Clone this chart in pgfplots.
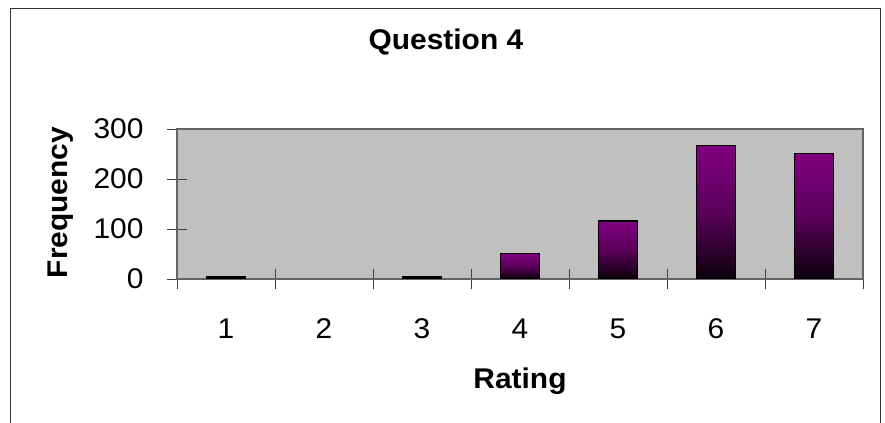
\documentclass[border=0pt]{standalone}
\usepackage{fontspec}
\setmainfont{Liberation Sans}[FakeStretch=1.05]
\usepackage{pgfplots}
\pgfplotsset{compat=1.18}

\definecolor{plotgray}{RGB}{192,192,192}
\definecolor{barpurple}{RGB}{128,0,128}
\definecolor{barmid}{RGB}{90,0,90}
\definecolor{bardark}{RGB}{12,0,12}
\definecolor{framegray}{RGB}{100,100,100}

\newcommand{\chartfont}{\fontsize{28.5bp}{33bp}\selectfont}

% one plot per bar, so that each bar gets its own gradient
\pgfplotsset{gradbar/.style={draw=black, line width=1.8bp,
    top color=barpurple, bottom color=bardark, middle color=barmid}}

\begin{document}
\begin{tikzpicture}
    % page is 885 x 423 bp, one bp per pixel of the reference
    \useasboundingbox (0,0) rectangle (885bp,423bp);
    % chart area border (bottom edge lies below the picture)
    \draw[line width=1.5bp, black!80]
        (10.7bp,-5bp) -- (10.7bp,414.7bp) -- (880.7bp,414.7bp) -- (880.7bp,-5bp);

    \begin{axis}[
        at={(177bp,144bp)}, anchor=south west,
        scale only axis,
        width=686bp, height=150bp,
        ybar, bar width=39bp, bar shift=0pt,
        xmin=0.5, xmax=7.5,
        ymin=0, ymax=300,
        xtick={0.5,1.5,...,7.5},
        x tick label as interval,
        xticklabels={1,2,3,4,5,6,7},
        ytick={0,100,200,300},
        xtick pos=bottom, ytick pos=left,
        axis background/.style={fill=plotgray},
        axis line style={draw=framegray, line width=1.2bp},
        tick style={draw=black!75, line width=1bp},
        tick align=center,
        major tick length=20bp,
        /pgf/number format/assume math mode=true,
        tick label style={font=\chartfont},
        x tick label style={yshift=-26bp},
        y tick label style={xshift=-20bp},
        title={Question 4},
        title style={font=\chartfont\bfseries, at={(axis description cs:0.392,1.487)}, anchor=base},
        xlabel={Rating},
        xlabel style={font=\chartfont\bfseries, at={(axis description cs:0.5,-0.727)}, anchor=base},
        ylabel={Frequency},
        ylabel style={font=\chartfont\bfseries, at={(axis description cs:-0.169,0.51)}, anchor=center},
    ]
    \addplot[gradbar] coordinates {(1, 4)};
    \addplot[gradbar, draw=none] coordinates {(2, 0)};
    \addplot[gradbar] coordinates {(3, 4)};
    \addplot[gradbar] coordinates {(4, 51)};
    \addplot[gradbar] coordinates {(5, 116)};
    \addplot[gradbar] coordinates {(6, 267)};
    \addplot[gradbar] coordinates {(7, 251)};
    \end{axis}
\end{tikzpicture}
\end{document}
